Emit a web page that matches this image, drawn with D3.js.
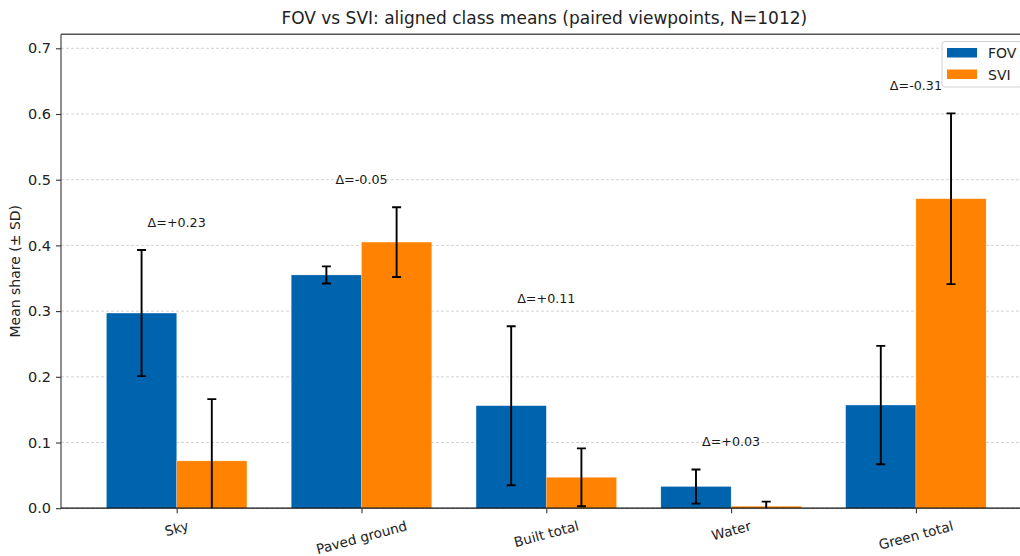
<!DOCTYPE html>
<html>
<head>
<meta charset="utf-8">
<script src="https://cdn.jsdelivr.net/npm/d3@7"></script>
<style>
  html, body { margin: 0; padding: 0; background: #fff; }
  svg { display: block; font-family: "DejaVu Sans", sans-serif; }
</style>
</head>
<body>
<svg id="chart" width="1020" height="556"></svg>
<script>
// ---- data ----
const categories = ["Sky", "Paved ground", "Built total", "Water", "Green total"];
const seriesNames = ["FOV", "SVI"];
const fovMean = [0.297, 0.355, 0.156, 0.033, 0.157];
const fovSD   = [0.096, 0.013, 0.121, 0.026, 0.090];
const sviMean = [0.072, 0.405, 0.047, 0.003, 0.471];
const sviSD   = [0.094, 0.053, 0.044, 0.007, 0.130];
const deltas  = [0.23, -0.05, 0.11, 0.03, -0.31];
const yTicks  = [0.0, 0.1, 0.2, 0.3, 0.4, 0.5, 0.6, 0.7];
const titleText = "FOV vs SVI: aligned class means (paired viewpoints, N=1012)";
const yLabelText = "Mean share (\u00B1 SD)";

// ---- layout ----
const pLeft = 61, pRight = 1031.6, pTop = 34.3, pBottom = 508.2;
const colors = ["#0063ad", "#ff8300"];

const svg = d3.select("#chart");

const x = d3.scalePoint().domain(categories).range([pLeft, pRight]).padding(0.626);
const step = x.step();
const barW = 0.38 * step;
const y = d3.scaleLinear().domain([0, 0.7213]).range([pBottom, pTop]);

const defs = svg.append("defs");
defs.append("clipPath").attr("id", "clip")
  .append("rect").attr("x", pLeft).attr("y", pTop).attr("width", pRight - pLeft).attr("height", pBottom - pTop);

// grid
svg.append("g").selectAll("line").data(yTicks).join("line")
  .attr("x1", pLeft).attr("x2", pRight)
  .attr("y1", d => y(d)).attr("y2", d => y(d))
  .attr("stroke", "#c8c8c8").attr("stroke-width", 0.8)
  .attr("stroke-dasharray", "3,2");

// data rows
const rows = categories.map((c, i) => ({
  cat: c,
  vals: [
    { s: 0, mean: fovMean[i], sd: fovSD[i] },
    { s: 1, mean: sviMean[i], sd: sviSD[i] }
  ],
  delta: deltas[i]
}));

const plot = svg.append("g").attr("clip-path", "url(#clip)");

// bars
rows.forEach(r => {
  r.vals.forEach(v => {
    const cx = x(r.cat) + (v.s === 0 ? -barW / 2 : barW / 2);
    v.cx = cx;
    plot.append("rect")
      .attr("x", cx - barW / 2)
      .attr("width", barW)
      .attr("y", y(v.mean))
      .attr("height", y(0) - y(v.mean))
      .attr("fill", colors[v.s])
      .attr("stroke", "#ffffff").attr("stroke-opacity", 0.35).attr("stroke-width", 0.6);
  });
});

// error bars
const capHalf = 4.5;
rows.forEach(r => {
  r.vals.forEach(v => {
    const g = plot.append("g").attr("stroke", "#000").attr("stroke-width", 1.9);
    const yt = y(v.mean + v.sd), yb = y(v.mean - v.sd);
    g.append("line").attr("x1", v.cx).attr("x2", v.cx).attr("y1", yt).attr("y2", yb);
    g.append("line").attr("x1", v.cx - capHalf).attr("x2", v.cx + capHalf).attr("y1", yt).attr("y2", yt);
    g.append("line").attr("x1", v.cx - capHalf).attr("x2", v.cx + capHalf).attr("y1", yb).attr("y2", yb);
  });
});

// delta labels
rows.forEach(r => {
  const topVal = d3.max(r.vals, v => v.mean + v.sd);
  const label = "\u0394=" + (r.delta > 0 ? "+" : "") + r.delta.toFixed(2);
  svg.append("text")
    .attr("x", x(r.cat)).attr("y", y(topVal + 0.042))
    .attr("text-anchor", "middle").attr("dominant-baseline", "central")
    .attr("font-size", 12.7).attr("fill", "#1a1a1a")
    .text(label);
});

// spines
svg.append("line").attr("x1", pLeft).attr("x2", pLeft).attr("y1", pTop).attr("y2", pBottom)
  .attr("stroke", "#333").attr("stroke-width", 1.1);
svg.append("line").attr("x1", pLeft).attr("x2", pRight).attr("y1", pTop).attr("y2", pTop)
  .attr("stroke", "#555").attr("stroke-width", 1.4);
svg.append("line").attr("x1", pLeft).attr("x2", pRight).attr("y1", pBottom).attr("y2", pBottom)
  .attr("stroke", "#111").attr("stroke-width", 1.3);

// y axis
const yAxis = d3.axisLeft(y).tickValues(yTicks).tickFormat(d3.format(".1f")).tickSize(5).tickPadding(5);
const gy = svg.append("g").attr("transform", `translate(${pLeft},0)`).call(yAxis);
gy.select(".domain").remove();
gy.selectAll("line").attr("stroke", "#333").attr("stroke-width", 1.1);
gy.selectAll("text").attr("font-size", 14.5).attr("fill", "#222").attr("font-family", "DejaVu Sans");

// x axis
const xAxis = d3.axisBottom(x).tickSize(5).tickFormat(() => "");
const gx = svg.append("g").attr("transform", `translate(0,${pBottom})`).call(xAxis);
gx.select(".domain").remove();
gx.selectAll("line").attr("stroke", "#333").attr("stroke-width", 1.1);

const xfs = 13.6, ang = 15 * Math.PI / 180;
categories.forEach(c => {
  const t = svg.append("text")
    .attr("font-size", xfs).attr("fill", "#222")
    .attr("text-anchor", "middle").attr("dominant-baseline", "central")
    .text(c);
  const L = t.node().getComputedTextLength();
  const h = xfs * 1.17;
  const cy = 517.5 + (L * Math.sin(ang) + h * Math.cos(ang)) / 2;
  t.attr("transform", `translate(${x(c)},${cy}) rotate(-15)`);
});

// title
svg.append("text").attr("x", (pLeft + pRight) / 2 - 2).attr("y", 18)
  .attr("text-anchor", "middle").attr("dominant-baseline", "central")
  .attr("font-size", 17).attr("fill", "#222").text(titleText);

// y label
svg.append("text")
  .attr("transform", `translate(15,${(pTop + pBottom) / 2}) rotate(-90)`)
  .attr("text-anchor", "middle").attr("dominant-baseline", "central")
  .attr("font-size", 14).attr("fill", "#222").text(yLabelText);

// legend
const lg = svg.append("g").attr("transform", "translate(942,41.5)");
lg.append("rect").attr("x", 0).attr("y", 0).attr("width", 80).attr("height", 45.5).attr("rx", 3)
  .attr("fill", "#fff").attr("fill-opacity", 0.85).attr("stroke", "#d0d0d0").attr("stroke-width", 1);
seriesNames.forEach((s, i) => {
  lg.append("rect").attr("x", 5).attr("y", 6.5 + i * 21.5).attr("width", 30).attr("height", 9.5)
    .attr("fill", colors[i]);
  lg.append("text").attr("x", 46).attr("y", 11.5 + i * 21.5)
    .attr("dominant-baseline", "central").attr("font-size", 14).attr("fill", "#222").text(s);
});
</script>
</body>
</html>
